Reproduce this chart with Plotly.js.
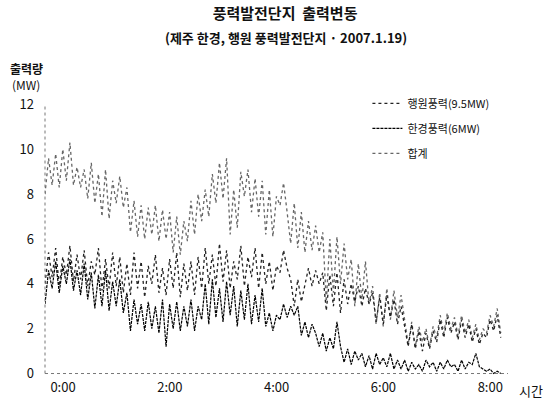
<!DOCTYPE html>
<html>
<head>
<meta charset="utf-8">
<script src="https://cdn.plot.ly/plotly-3.0.1.min.js"></script>
<style>
  html, body { margin: 0; padding: 0; background: #ffffff; }
  #chart { width: 545px; height: 405px; }
</style>
</head>
<body>
<div id="chart"></div>
<script>
// ---- data (MW, one sample every 4 minutes) ----
const sampleStepMinutes = 4;
const tickHours = [0, 2, 4, 6, 8];
const tickLabels = ['0:00', '2:00', '4:00', '6:00', '8:00'];
const yTicks = [0, 2, 4, 6, 8, 10, 12];

const seriesNames = ['행원풍력(9.5MW)', '한경풍력(6MW)', '합계'];

const haengwon = [
  4.0, 5.4, 4.3, 5.6, 3.9, 5.2, 4.4, 5.7, 4.1, 5.3,
  4.2, 5.5, 3.9, 5.0, 4.4, 5.6, 3.7, 5.1, 3.8, 5.4,
  3.9, 5.2, 3.6, 4.9, 3.5, 5.4, 3.8, 5.0, 3.4, 4.8,
  4.0, 5.3, 3.6, 4.7, 3.5, 5.1, 3.8, 5.4, 3.4, 4.9,
  3.7, 5.0, 3.5, 5.2, 3.8, 5.6, 4.0, 5.3, 3.9, 5.8,
  4.1, 5.5, 3.8, 5.0, 4.2, 5.7, 3.9, 5.2, 4.3, 5.6,
  3.8, 5.4, 4.0, 5.0, 3.7, 4.8, 4.5, 5.5, 4.7, 4.2,
  3.0, 4.2, 3.2, 4.0, 4.7, 3.9, 4.6, 4.0, 4.5, 2.8,
  4.4, 3.0, 4.5, 2.7, 4.2, 3.1, 4.0, 3.2, 3.9, 3.0,
  3.8, 3.1, 3.6, 2.3, 3.4, 2.2, 3.5, 2.5, 3.3, 2.2,
  3.0, 2.1, 1.2, 2.2, 1.1, 1.9, 1.0, 1.8, 1.1, 1.9,
  1.4, 2.4, 1.6, 2.5, 1.8, 2.3, 1.5, 2.4, 1.6, 2.2,
  1.4, 2.0, 1.3, 1.8, 1.6, 2.4, 1.9, 2.6, 1.6
];

const hangyeong = [
  3.1, 4.6, 3.8, 5.0, 3.6, 4.8, 4.0, 5.1, 3.7, 4.6,
  3.5, 4.9, 3.3, 4.5, 2.9, 4.4, 3.0, 4.6, 2.8, 4.1,
  3.0, 4.2, 2.7, 3.6, 1.9, 3.3, 2.2, 3.1, 1.9, 3.2,
  2.0, 3.0, 1.8, 3.3, 1.2, 3.1, 2.0, 3.2, 1.9, 3.0,
  2.1, 3.3, 1.9, 3.0, 2.4, 4.0, 2.2, 4.2, 2.5, 3.8,
  2.3, 4.1, 2.6, 3.9, 2.1, 3.7, 2.4, 4.0, 2.2, 3.5,
  2.3, 3.8, 2.1, 2.7, 1.9, 2.6, 2.4, 3.1, 2.5, 3.0,
  2.6, 3.0, 1.7, 2.3, 1.6, 2.2, 1.8, 1.2, 1.8, 1.0,
  1.6, 1.1, 2.3, 1.2, 0.5, 1.1, 0.4, 1.0, 0.6, 0.9,
  0.3, 0.8, 0.2, 0.9, 0.4, 0.7, 0.3, 0.9, 0.2, 0.6,
  0.2, 0.6, 0.1, 0.5, 0.2, 0.4, 0.1, 0.6, 0.3, 0.5,
  0.1, 0.5, 0.2, 0.6, 0.3, 0.4, 0.1, 0.6, 0.2, 0.5,
  0.4, 0.9, 0.3, 0.2, 0.1, 0.2, 0.0, 0.1, 0.0
];

const total = [
  8.0, 9.6, 8.4, 9.8, 8.3, 10.0, 8.6, 10.3, 8.4, 9.2,
  8.3, 9.1, 7.8, 9.4, 7.6, 8.9, 7.0, 9.1, 6.9, 8.6,
  7.6, 8.8, 7.4, 8.3, 6.3, 7.7, 6.1, 7.5, 6.0, 7.4,
  6.2, 7.5, 5.9, 7.3, 6.0, 7.2, 5.4, 7.0, 5.3, 6.8,
  5.9, 7.7, 6.2, 8.0, 6.8, 8.2, 7.0, 8.9, 7.6, 9.4,
  7.8, 9.6, 6.2, 8.2, 6.5, 9.0, 7.9, 9.1, 7.2, 8.7,
  7.0, 8.6, 6.2, 8.2, 6.1, 7.9, 7.5, 8.5, 7.2, 5.8,
  7.6, 5.6, 7.2, 5.4, 6.8, 5.5, 6.6, 5.4, 6.3, 3.2,
  6.0, 3.6, 6.1, 4.0, 5.8, 4.2, 5.1, 3.0, 4.9, 3.3,
  5.0, 3.1, 3.9, 2.2, 3.6, 2.1, 3.8, 2.4, 3.7, 2.5,
  3.5, 2.4, 1.3, 2.3, 1.2, 2.1, 1.4, 2.0, 1.2, 2.1,
  1.6, 2.6, 1.8, 2.7, 2.0, 2.5, 1.7, 2.6, 1.8, 2.4,
  1.6, 2.2, 1.5, 2.0, 1.8, 2.6, 2.1, 2.9, 1.8
];

// ---- sample times (hours since start) ----
const hours = total.map((_, i) => i * sampleStepMinutes / 60);

const FONT = '"Noto Sans CJK KR", "Noto Sans", sans-serif';

const traces = [
  {
    x: hours, y: total, name: seriesNames[2], type: 'scatter', mode: 'lines',
    line: { color: '#666666', width: 1.3, dash: 'dot' },
    legendrank: 3, legendgroup: 'c'
  },
  {
    x: hours, y: haengwon, name: seriesNames[0], type: 'scatter', mode: 'lines',
    line: { color: '#222222', width: 1.3, dash: 'dot' },
    legendrank: 1, legendgroup: 'a'
  },
  {
    x: hours, y: hangyeong, name: seriesNames[1], type: 'scatter', mode: 'lines',
    line: { color: '#000000', width: 1.2, dash: '3px,1px' },
    legendrank: 2, legendgroup: 'b'
  }
];

const layout = {
  width: 545, height: 405,
  paper_bgcolor: '#ffffff', plot_bgcolor: '#ffffff',
  margin: { l: 45, r: 30, t: 100, b: 27 },
  font: { family: FONT, color: '#111111', size: 12 },
  title: {
    text: '<b>풍력발전단지  출력변동</b>',
    font: { family: FONT, size: 15, color: '#111111' },
    x: 0.523, xref: 'container', xanchor: 'center',
    y: 0.967, yref: 'container', yanchor: 'middle'
  },
  xaxis: {
    range: [0, 8.8],
    tickvals: tickHours, ticktext: tickLabels,
    ticks: '', showgrid: false, zeroline: false, showline: false,
    ticklabelshift: 18,
    tickfont: { family: FONT, size: 13, color: '#111111' }
  },
  yaxis: {
    range: [-0.2, 12.2],
    tickvals: yTicks,
    ticks: '', showgrid: false, zeroline: false, showline: false,
    ticklabelstandoff: 10,
    tickfont: { family: FONT, size: 13, color: '#111111' }
  },
  showlegend: true,
  legend: {
    x: 0.686, xanchor: 'left', xref: 'paper',
    y: 1.04, yanchor: 'top', yref: 'paper',
    bgcolor: 'rgba(0,0,0,0)',
    font: { family: FONT, size: 11, color: '#111111' },
    tracegroupgap: 6,
    itemwidth: 30
  },
  shapes: [
    { type: 'line', xref: 'paper', yref: 'y', x0: 0, x1: 0, y0: 0, y1: 12,
      line: { color: '#777777', width: 1, dash: 'dot' } },
    { type: 'line', xref: 'paper', yref: 'y', x0: 0, x1: 0.985, y0: 0, y1: 0,
      line: { color: '#777777', width: 1, dash: 'dot' } }
  ],
  annotations: [
    { text: '<b>(제주 한경, 행원 풍력발전단지 · 2007.1.19)</b>',
      xref: 'paper', yref: 'paper', x: 0.513, y: 1.224, xanchor: 'center', yanchor: 'middle',
      showarrow: false, font: { family: FONT, size: 13, color: '#111111' } },
    { text: '<b>출력량</b>', xref: 'paper', yref: 'paper', x: -0.04, y: 1.113,
      xanchor: 'center', yanchor: 'middle', showarrow: false,
      font: { family: FONT, size: 12, color: '#111111' } },
    { text: '(MW)', xref: 'paper', yref: 'paper', x: -0.04, y: 1.055,
      xanchor: 'center', yanchor: 'middle', showarrow: false,
      font: { family: FONT, size: 12, color: '#111111' } },
    { text: '시간', xref: 'paper', yref: 'paper', x: 1.035, y: -0.045,
      xanchor: 'center', yanchor: 'middle', showarrow: false,
      font: { family: FONT, size: 13, color: '#111111' } }
  ]
};

Plotly.newPlot('chart', traces, layout, { displayModeBar: false, staticPlot: true });
</script>
</body>
</html>
